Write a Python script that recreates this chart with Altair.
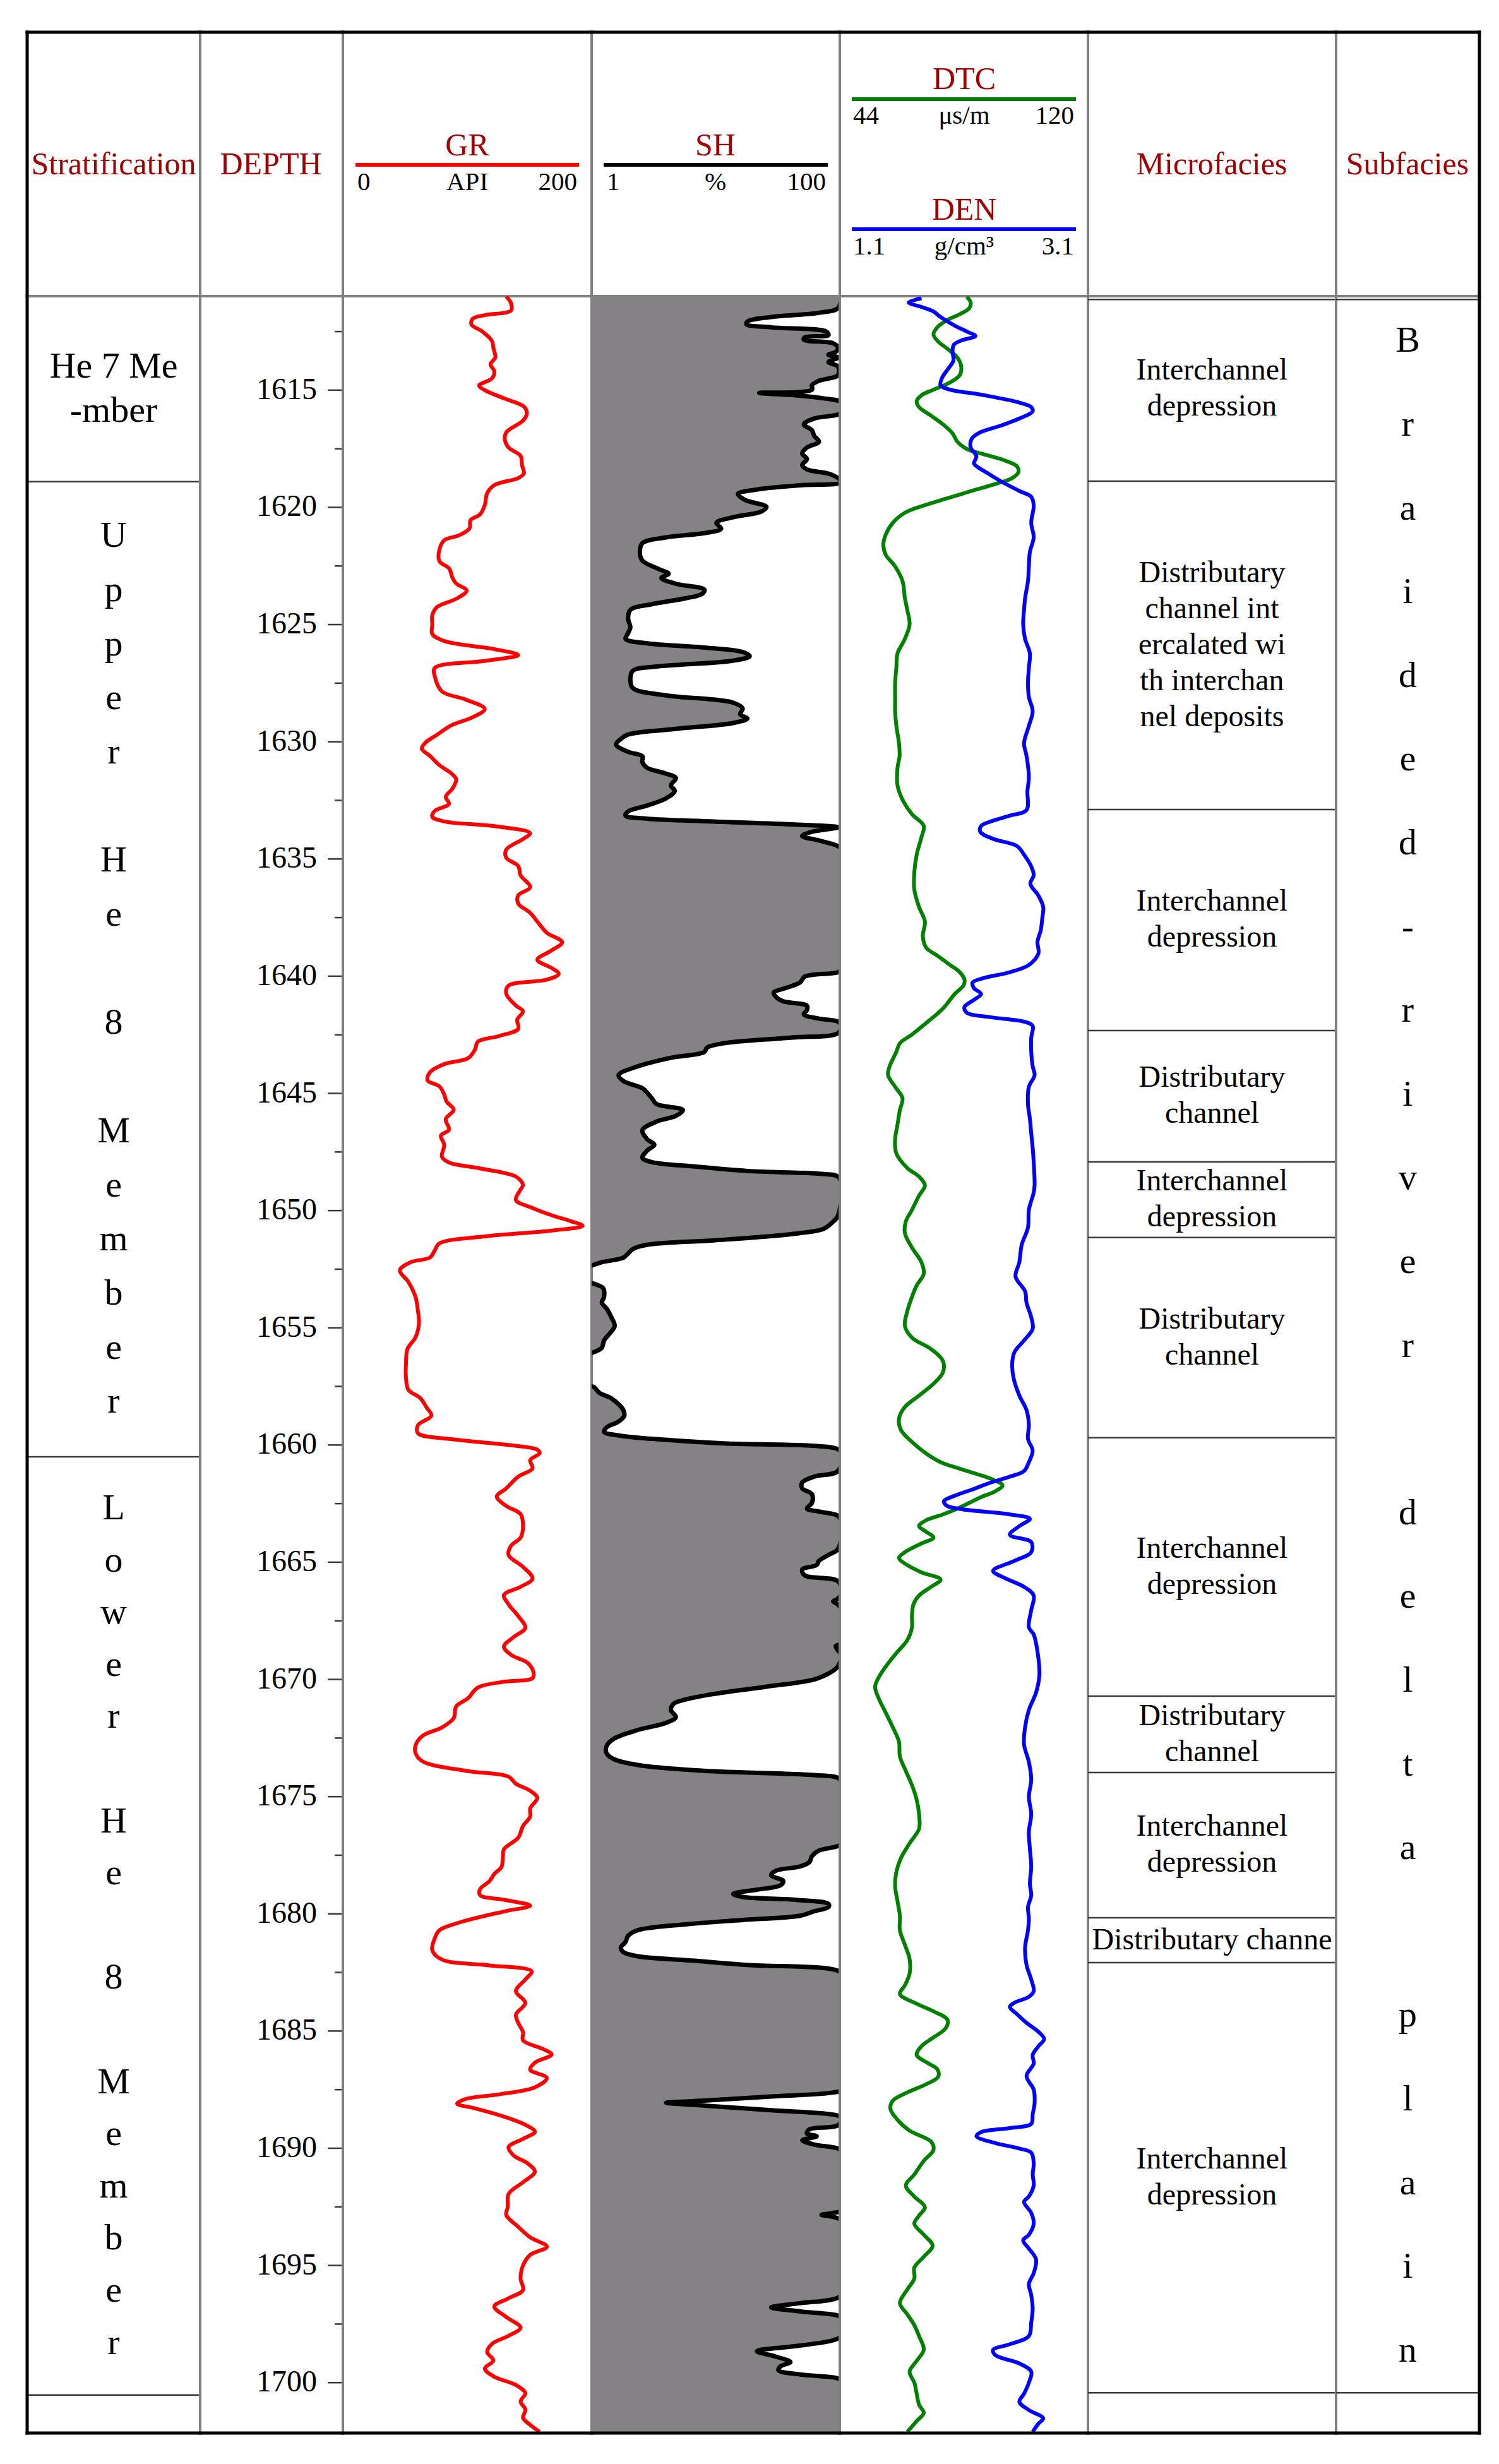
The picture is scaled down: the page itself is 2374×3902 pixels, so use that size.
import altair as alt
import pandas as pd

GR_DEPTH = [1611.0, 1611.3, 1611.6, 1611.8, 1611.95, 1612.2, 1612.5, 1612.9, 1613.2, 1613.6, 1613.9, 1614.2, 1614.5, 1614.8, 1615.0,
            1615.35, 1615.7, 1616.0, 1616.3, 1616.8, 1617.1, 1617.45, 1617.8, 1618.2, 1618.55, 1618.75, 1619.05, 1619.4, 1619.9,
            1620.3, 1620.55, 1620.9, 1621.2, 1621.4, 1621.8, 1622.3, 1622.6, 1623.0, 1623.25, 1623.55, 1623.9, 1624.25, 1624.6,
            1625.0, 1625.4, 1625.7, 1626.05, 1626.3, 1626.55, 1626.85, 1627.2, 1627.85, 1628.2, 1628.6, 1628.95, 1629.3, 1629.7,
            1630.05, 1630.3, 1630.6, 1631.0, 1631.35, 1631.6, 1632.0, 1632.35, 1632.65, 1632.95, 1633.2, 1633.4, 1633.6, 1633.9,
            1634.15, 1634.6, 1634.95, 1635.3, 1635.7, 1636.2, 1636.55, 1636.9, 1637.3, 1637.8, 1638.15, 1638.55, 1638.9, 1639.3,
            1639.65, 1639.9, 1640.15, 1640.4, 1640.75, 1641.25, 1641.5, 1641.85, 1642.25, 1642.55, 1642.8, 1643.1, 1643.5,
            1643.75, 1644.1, 1644.45, 1644.7, 1645.05, 1645.35, 1645.7, 1646.1, 1646.55, 1646.8, 1647.2, 1647.7, 1647.95, 1648.2,
            1648.55, 1648.9, 1649.1, 1649.55, 1649.85, 1650.2, 1650.45, 1650.65, 1650.85, 1651.1, 1651.4, 1651.7, 1652.0, 1652.2,
            1652.55, 1653.05, 1653.7, 1654.3, 1654.8, 1655.4, 1655.9, 1656.5, 1657.15, 1657.65, 1658.0, 1658.4, 1658.75, 1659.15,
            1659.5, 1659.75, 1660.0, 1660.2, 1660.35, 1660.65, 1661.0, 1661.35, 1661.85, 1662.2, 1662.6, 1662.95, 1663.45,
            1663.95, 1664.3, 1664.7, 1665.2, 1665.7, 1666.05, 1666.4, 1666.8, 1667.3, 1667.8, 1668.2, 1668.6, 1668.95, 1669.3,
            1669.7, 1669.95, 1670.1, 1670.35, 1670.8, 1671.15, 1671.65, 1672.05, 1672.4, 1672.8, 1673.15, 1673.5, 1673.9,
            1674.15, 1674.45, 1674.75, 1675.05, 1675.5, 1675.85, 1676.25, 1676.75, 1677.25, 1677.6, 1678.0, 1678.3, 1678.6,
            1678.95, 1679.2, 1679.4, 1679.65, 1679.9, 1680.35, 1680.7, 1681.05, 1681.55, 1681.95, 1682.2, 1682.45, 1682.8,
            1683.3, 1683.8, 1684.3, 1684.65, 1685.05, 1685.4, 1685.75, 1686.0, 1686.35, 1686.65, 1687.0, 1687.4, 1687.7, 1687.9,
            1688.1, 1688.3, 1688.65, 1689.0, 1689.3, 1689.6, 1689.95, 1690.3, 1690.65, 1691.0, 1691.45, 1691.95, 1692.5,
            1692.85, 1693.35, 1693.8, 1694.2, 1694.55, 1695.0, 1695.55, 1696.05, 1696.4, 1696.75, 1697.2, 1697.65, 1698.0,
            1698.35, 1698.7, 1699.05, 1699.4, 1699.75, 1700.1, 1700.45, 1700.8, 1701.15, 1701.5, 1701.8, 1702.1]
GR_API = [134.9, 139.2, 139.2, 115.7, 105.0, 103.7, 113.6, 122.1, 123.4, 125.1, 120.8, 124.2, 122.1, 110.6, 115.7,
          132.8, 150.7, 153.3, 149.9, 134.9, 133.6, 137.0, 147.7, 149.0, 150.7, 145.6, 124.2, 117.8, 115.7,
          111.4, 102.9, 102.0, 92.2, 79.4, 75.1, 75.1, 83.7, 86.7, 90.1, 99.5, 90.1, 73.0, 68.7,
          68.7, 68.7, 79.4, 124.2, 145.6, 115.7, 70.9, 70.9, 77.3, 98.6, 115.7, 105.0, 85.8, 73.0,
          62.3, 59.3, 66.6, 75.1, 85.8, 90.1, 86.7, 80.7, 83.7, 70.9, 68.7, 79.4, 124.2, 156.3,
          149.9, 134.9, 134.9, 145.6, 147.7, 156.3, 145.6, 145.6, 156.3, 164.8, 171.2, 184.9, 175.5, 162.7,
          175.5, 181.9, 171.2, 137.0, 134.9, 143.5, 149.9, 144.7, 145.6, 128.5, 109.3, 107.2, 100.7,
          79.4, 66.6, 64.5, 75.1, 79.4, 81.5, 87.9, 80.7, 83.7, 76.4, 79.4, 77.3, 83.7, 111.4,
          143.5, 149.9, 147.7, 143.5, 156.3, 175.5, 192.6, 203.3, 175.5, 115.7, 75.1, 70.9, 66.6, 49.5,
          39.7, 47.4, 53.8, 55.9, 56.8, 53.8, 46.5, 45.2, 45.2, 47.4, 58.0, 63.6, 67.9, 55.9,
          55.9, 85.8, 137.0, 162.7, 164.8, 156.3, 158.4, 145.6, 134.9, 126.4, 134.9, 147.7, 149.9,
          147.7, 139.2, 137.0, 149.9, 158.4, 147.7, 132.8, 137.0, 145.6, 152.0, 141.3, 132.8, 139.2, 154.1,
          159.3, 158.4, 132.8, 109.3, 100.7, 90.1, 87.9, 77.3, 60.2, 53.8, 53.8, 60.2, 98.6,
          137.0, 143.5, 156.3, 162.7, 156.3, 156.3, 149.9, 145.6, 132.8, 131.9, 130.6, 124.2, 120.0,
          111.4, 111.4, 132.8, 156.3, 132.8, 94.3, 75.1, 70.9, 68.7, 77.3, 120.0, 157.6, 152.0,
          143.5, 152.0, 143.5, 145.6, 149.9, 149.9, 167.0, 175.5, 160.5, 156.3, 171.2, 160.5, 128.5, 98.6,
          90.9, 107.2, 132.8, 152.0, 160.5, 149.9, 137.0, 141.3, 154.1, 160.5, 149.9, 137.0, 136.2,
          134.9, 145.6, 156.3, 171.2, 156.3, 149.9, 147.7, 149.9, 137.0, 124.2, 134.9, 147.7, 137.0,
          122.1, 117.8, 123.4, 115.7, 124.2, 143.5, 152.0, 147.7, 152.0, 149.9, 156.3, 164.8]

SH_DEPTH = [1611.0, 1611.5, 1611.7, 1611.88, 1612.07, 1612.19, 1612.32, 1612.5, 1612.65, 1612.75, 1612.85, 1613.0, 1613.18,
            1613.37, 1613.49, 1613.61, 1613.8, 1613.99, 1614.36, 1614.6, 1614.79, 1614.98, 1615.12, 1615.22, 1615.35, 1615.53,
            1615.96, 1616.21, 1616.46, 1616.71, 1616.95, 1617.2, 1617.45, 1617.7, 1617.94, 1618.19, 1618.38, 1618.56, 1618.75,
            1618.93, 1619.06, 1619.24, 1619.43, 1619.68, 1619.98, 1620.17, 1620.42, 1620.66, 1620.91, 1621.1, 1621.28, 1621.53,
            1621.9, 1622.27, 1622.64, 1622.83, 1623.01, 1623.26, 1623.51, 1623.69, 1623.88, 1624.13, 1624.37, 1624.75, 1625.12,
            1625.36, 1625.61, 1625.8, 1625.98, 1626.17, 1626.35, 1626.54, 1626.79, 1626.97, 1627.34, 1627.71, 1628.02, 1628.33,
            1628.58, 1628.83, 1629.01, 1629.2, 1629.45, 1629.69, 1629.88, 1630.12, 1630.43, 1630.62, 1630.87, 1631.11, 1631.36,
            1631.55, 1631.86, 1632.1, 1632.41, 1632.72, 1632.97, 1633.15, 1633.28, 1633.4, 1633.53, 1633.65, 1633.84, 1634.02,
            1634.21, 1634.45, 1634.58, 1639.71, 1639.83, 1640.02, 1640.27, 1640.51, 1640.7, 1640.88, 1641.07, 1641.26, 1641.44,
            1641.63, 1641.81, 1641.94, 1642.12, 1642.43, 1642.62, 1642.86, 1643.05, 1643.23, 1643.48, 1643.85, 1644.22, 1644.47,
            1644.78, 1644.97, 1645.21, 1645.46, 1645.71, 1645.96, 1646.2, 1646.57, 1646.95, 1647.19, 1647.44, 1647.75, 1647.93,
            1648.12, 1648.31, 1648.43, 1648.55, 1648.92, 1650.22, 1650.47, 1650.78, 1650.96, 1651.09, 1651.27, 1651.46, 1651.64,
            1651.83, 1652.01, 1652.2, 1652.32, 1652.51, 1653.0, 1653.13, 1653.31, 1653.68, 1653.93, 1654.18, 1654.55, 1654.92,
            1655.23, 1655.54, 1655.85, 1656.03, 1656.22, 1657.39, 1657.52, 1657.77, 1658.01, 1658.26, 1658.51, 1658.76, 1659.0,
            1659.25, 1659.44, 1659.62, 1659.81, 1659.93, 1660.05, 1660.18, 1660.36, 1661.11, 1661.35, 1661.6, 1661.85, 1662.1,
            1662.47, 1662.71, 1662.84, 1663.02, 1663.33, 1664.44, 1664.69, 1664.94, 1665.12, 1665.31, 1665.56, 1665.81, 1666.3,
            1666.55, 1666.67, 1666.8, 1667.04, 1668.45, 1668.58, 1668.76, 1668.95, 1669.44, 1669.69, 1670.0, 1670.31, 1670.62,
            1670.86, 1671.05, 1671.3, 1671.61, 1671.85, 1672.16, 1672.53, 1672.84, 1673.15, 1673.4, 1673.65, 1673.9, 1674.08,
            1674.2, 1674.39, 1676.99, 1677.11, 1677.3, 1677.54, 1677.79, 1677.98, 1678.16, 1678.35, 1678.6, 1678.78, 1678.97,
            1679.15, 1679.28, 1679.4, 1679.58, 1679.71, 1679.89, 1680.08, 1680.26, 1680.45, 1680.7, 1680.94, 1681.19, 1681.44,
            1681.63, 1681.81, 1682.0, 1682.18, 1682.31, 1682.43, 1682.55, 1687.5, 1687.62, 1687.79, 1687.97, 1688.06, 1688.18,
            1688.38, 1688.61, 1688.73, 1689.02, 1689.19, 1689.37, 1689.49, 1689.66, 1689.84, 1690.01, 1690.13, 1692.64, 1692.76,
            1692.84, 1692.93, 1693.11, 1696.26, 1696.44, 1696.61, 1696.79, 1696.96, 1697.14, 1697.26, 1698.01, 1698.19, 1698.42,
            1698.66, 1698.89, 1699.12, 1699.3, 1699.47, 1699.65, 1699.82, 1699.94, 1702.15]
SH_PCT = [106, 104.5, 96.1, 75.0, 64.5, 64.1, 75.0, 99.3, 100.3, 89.8, 89.4, 102.4, 104.5,
          103.5, 100.3, 104.5, 100.3, 104.5, 104.5, 96.1, 93.0, 93.0, 69.7, 85.6, 98.2, 106,
          106, 94.0, 89.4, 93.0, 94.0, 96.1, 90.8, 88.7, 90.8, 88.7, 90.8, 100.3, 104.5,
          106, 87.7, 68.7, 60.3, 63.4, 72.9, 70.8, 58.2, 50.8, 52.9, 45.5, 28.6, 18.1,
          17.0, 18.1, 25.5, 29.7, 26.5, 32.9, 45.5, 44.5, 37.1, 22.3, 12.8, 11.8, 12.8,
          11.8, 10.7, 20.2, 45.5, 62.4, 65.5, 58.2, 24.4, 13.9, 12.8, 13.9, 28.6, 58.2,
          62.4, 61.3, 64.5, 58.2, 32.9, 11.8, 8.6, 6.5, 11.8, 18.1, 18.1, 20.2, 28.6,
          32.9, 30.7, 32.4, 28.6, 20.2, 11.8, 10.7, 20.2, 49.7, 85.6, 104.5, 93.0, 88.7,
          96.1, 104.5, 106, 106, 104.5, 89.8, 87.7, 81.3, 76.1, 77.1, 80.3, 90.8, 90.8,
          89.4, 96.1, 104.5, 106, 104.5, 83.5, 54.0, 46.6, 45.5, 30.7, 16.0, 7.6, 9.7,
          18.1, 20.2, 22.3, 24.4, 36.0, 32.9, 24.4, 18.1, 20.2, 23.4, 20.2, 18.1, 22.3,
          41.3, 64.5, 96.1, 104.5, 106, 104.5, 102.4, 98.2, 87.7, 75.0, 49.7, 20.2, 13.9,
          11.8, 9.7, 0.2, -3.6, -8, -8, -3.0, 0.8, 1.2, 0.2, 2.3, 4.4, 5.9,
          3.8, 1.2, 0.2, -3.0, -8, -8, -3.4, -0.9, 4.4, 7.6, 9.7, 10.1, 7.6,
          2.3, 1.2, 9.7, 32.9, 54.0, 96.1, 104.5, 106, 104.5, 94.0, 88.7, 88.7, 93.0,
          93.0, 90.8, 96.1, 104.5, 106, 104.5, 100.3, 96.1, 95.1, 88.7, 89.8, 104.5, 106,
          104.5, 102.4, 104.5, 106, 106, 103.5, 104.5, 106, 104.5, 101.4, 94.0, 72.9, 49.7,
          37.1, 31.8, 30.7, 32.9, 28.6, 16.0, 5.5, 2.3, 2.3, 5.5, 16.0, 45.5, 94.0,
          104.5, 106, 106, 104.5, 96.1, 93.0, 91.9, 87.7, 77.1, 75.0, 80.3, 79.2, 68.7,
          58.2, 62.4, 85.6, 100.3, 100.3, 94.0, 87.7, 62.4, 37.1, 16.0, 11.8, 10.7, 8.6,
          9.7, 16.0, 41.3, 64.5, 98.2, 104.5, 106, 106, 102.4, 75.0, 45.5, 28.6, 45.5,
          75.0, 104.5, 106, 104.5, 91.9, 90.8, 95.1, 88.7, 94.0, 104.5, 106, 106, 102.4,
          97.2, 102.4, 106, 106, 102.4, 87.7, 75.0, 87.7, 104.5, 106, 106, 102.4, 87.7,
          68.7, 77.1, 83.5, 79.2, 78.2, 87.7, 104.5, 106, 106]

DTC_DEPTH = [1611.02, 1611.26, 1611.51, 1611.76, 1612.0, 1612.32, 1612.63, 1612.93, 1613.24, 1613.61, 1613.99, 1614.36,
             1614.67, 1614.98, 1615.22, 1615.47, 1615.72, 1616.09, 1616.46, 1616.83, 1617.2, 1617.51, 1617.76, 1618.0,
             1618.25, 1618.5, 1618.75, 1619.0, 1619.3, 1619.61, 1619.92, 1620.23, 1620.66, 1621.16, 1621.59, 1622.02,
             1622.52, 1623.14, 1623.88, 1624.37, 1624.99, 1625.61, 1626.23, 1626.85, 1627.47, 1628.09, 1628.7, 1629.32,
             1630.06, 1630.6, 1631.11, 1631.86, 1632.47, 1633.09, 1633.59, 1634.08, 1634.82, 1635.57, 1636.31, 1637.05,
             1637.67, 1638.29, 1638.78, 1639.15, 1639.52, 1639.83, 1640.14, 1640.39, 1640.76, 1641.38, 1642.0, 1642.49,
             1642.86, 1643.23, 1643.85, 1644.22, 1644.72, 1645.21, 1645.71, 1646.33, 1646.95, 1647.56, 1648.18, 1648.55,
             1648.92, 1649.36, 1649.97, 1650.47, 1650.96, 1651.58, 1652.2, 1652.7, 1653.19, 1653.68, 1654.3, 1654.92,
             1655.42, 1655.91, 1656.41, 1656.9, 1657.39, 1657.89, 1658.38, 1658.88, 1659.37, 1659.87, 1660.36, 1660.73,
             1660.98, 1661.23, 1661.48, 1661.72, 1661.97, 1662.22, 1662.47, 1662.71, 1662.96, 1663.21, 1663.46, 1663.7,
             1663.95, 1664.2, 1664.57, 1664.82, 1665.06, 1665.43, 1665.74, 1666.05, 1666.42, 1666.8, 1667.29, 1667.78,
             1668.33, 1668.82, 1669.32, 1669.81, 1670.31, 1670.8, 1671.42, 1672.04, 1672.66, 1673.28, 1673.9, 1674.51,
             1675.13, 1675.75, 1676.37, 1676.99, 1677.61, 1678.22, 1678.84, 1679.46, 1680.08, 1680.7, 1681.32, 1681.93,
             1682.55, 1683.05, 1683.42, 1683.79, 1684.16, 1684.53, 1684.9, 1685.27, 1685.65, 1686.02, 1686.39, 1686.63,
             1686.95, 1687.27, 1687.62, 1687.97, 1688.32, 1688.79, 1689.25, 1689.72, 1690.07, 1690.54, 1691.12, 1691.59,
             1692.06, 1692.52, 1692.87, 1693.22, 1693.69, 1694.16, 1694.63, 1695.09, 1695.56, 1696.03, 1696.61, 1697.08,
             1697.55, 1698.01, 1698.6, 1699.07, 1699.53, 1700.0, 1700.47, 1700.94, 1701.29, 1701.64, 1702.1]
DTC_US = [83.0, 84.3, 83.8, 80.6, 76.5, 73.0, 71.7, 73.3, 76.5, 79.8, 81.1, 80.6,
          77.3, 71.7, 67.6, 66.0, 66.8, 70.9, 74.9, 78.1, 79.8, 83.0, 89.5, 95.9,
          100.0, 100.5, 98.4, 92.7, 84.6, 76.5, 68.4, 62.0, 57.9, 55.5, 54.7, 55.5,
          58.7, 61.2, 62.0, 62.8, 63.6, 62.0, 59.5, 59.1, 58.7, 58.7, 58.7, 59.1,
          60.0, 60.2, 59.5, 59.5, 61.2, 64.4, 68.4, 67.6, 66.0, 65.2, 65.2, 66.8,
          68.8, 68.1, 69.2, 73.3, 77.3, 80.6, 82.2, 81.9, 78.9, 74.9, 69.2, 64.4,
          60.3, 59.1, 56.8, 56.3, 58.7, 61.2, 60.3, 59.5, 58.7, 59.1, 62.8, 66.8,
          68.8, 66.8, 64.4, 62.3, 62.0, 64.4, 67.6, 68.4, 66.0, 64.4, 62.8, 62.0,
          64.4, 70.9, 74.9, 74.9, 71.7, 66.8, 62.0, 60.0, 60.7, 64.4, 69.2, 74.1,
          79.8, 86.2, 91.9, 95.1, 92.7, 87.9, 83.8, 79.8, 74.9, 69.2, 66.8, 69.2,
          71.7, 67.6, 62.0, 60.0, 62.0, 67.6, 74.1, 70.9, 66.8, 64.9, 64.4, 64.4,
          62.8, 59.5, 56.3, 53.6, 51.9, 53.1, 55.5, 57.9, 60.0, 60.3, 62.3, 64.4,
          66.0, 66.8, 66.8, 63.6, 60.7, 59.1, 58.7, 59.5, 60.3, 60.3, 62.0, 63.6,
          63.6, 62.0, 60.3, 65.2, 71.7, 76.5, 75.7, 71.7, 67.6, 66.0, 70.1, 73.0,
          73.3, 69.2, 62.8, 57.9, 57.1, 59.5, 63.6, 70.9, 71.7, 68.4, 65.2, 62.3,
          65.2, 68.8, 66.8, 65.2, 68.4, 71.4, 68.4, 65.2, 65.2, 62.8, 60.3, 62.8,
          65.2, 66.8, 68.4, 66.0, 63.6, 65.2, 66.0, 66.8, 68.4, 66.0, 62.8]

DEN_DEPTH = [1611.08, 1611.26, 1611.45, 1611.64, 1611.88, 1612.25, 1612.5, 1612.69, 1612.87, 1613.06, 1613.37, 1613.74,
             1614.11, 1614.48, 1614.79, 1614.98, 1615.16, 1615.35, 1615.53, 1615.72, 1615.9, 1616.21, 1616.52, 1616.83,
             1617.08, 1617.45, 1617.82, 1618.13, 1618.31, 1618.56, 1618.93, 1619.3, 1619.55, 1619.92, 1620.66, 1621.28,
             1621.9, 1622.52, 1623.14, 1623.88, 1624.37, 1624.99, 1625.61, 1626.23, 1626.85, 1627.47, 1628.09, 1628.7,
             1629.32, 1630.06, 1630.6, 1631.49, 1632.1, 1632.91, 1633.15, 1633.4, 1633.59, 1633.84, 1634.14, 1634.45,
             1634.82, 1635.32, 1635.69, 1636.06, 1636.56, 1637.05, 1637.55, 1638.04, 1638.53, 1639.03, 1639.52, 1639.83,
             1640.08, 1640.27, 1640.51, 1640.76, 1641.01, 1641.32, 1641.56, 1641.75, 1641.94, 1642.12, 1642.62, 1643.23,
             1643.85, 1644.22, 1644.72, 1645.46, 1646.08, 1646.7, 1647.32, 1647.93, 1648.92, 1649.23, 1649.97, 1650.72,
             1651.46, 1652.2, 1652.82, 1653.44, 1653.93, 1654.55, 1655.04, 1655.54, 1656.03, 1656.53, 1657.15, 1657.89,
             1658.51, 1659.13, 1659.74, 1660.24, 1660.73, 1661.11, 1661.35, 1661.6, 1661.91, 1662.16, 1662.4, 1662.59,
             1662.74, 1662.96, 1663.15, 1663.46, 1663.83, 1664.14, 1664.57, 1664.94, 1665.37, 1665.68, 1666.05, 1666.42,
             1667.04, 1667.78, 1668.08, 1668.82, 1669.81, 1670.56, 1671.3, 1672.04, 1672.78, 1673.52, 1674.27, 1675.01,
             1675.75, 1676.49, 1677.23, 1677.98, 1678.72, 1679.21, 1679.71, 1680.2, 1680.7, 1681.44, 1682.18, 1682.8,
             1683.3, 1683.54, 1683.79, 1683.97, 1684.28, 1684.65, 1685.03, 1685.34, 1685.65, 1686.02, 1686.39, 1686.92,
             1687.5, 1688.08, 1688.55, 1688.96, 1689.14, 1689.31, 1689.49, 1689.78, 1690.01, 1690.19, 1690.65, 1691.12,
             1691.59, 1692.06, 1692.29, 1692.76, 1693.22, 1693.69, 1693.93, 1694.28, 1694.74, 1695.33, 1695.79, 1696.26,
             1696.85, 1697.43, 1698.01, 1698.36, 1698.6, 1698.83, 1699.18, 1699.53, 1700.0, 1700.47, 1700.82, 1701.17,
             1701.52, 1701.75, 1702.1]
DEN_GCC = [1.722, 1.607, 1.722, 1.828, 1.892, 2.020, 2.127, 2.203, 2.084, 2.011, 1.999, 2.007,
           1.956, 1.905, 1.892, 1.977, 2.212, 2.425, 2.595, 2.701, 2.714, 2.595, 2.425, 2.233,
           2.169, 2.161, 2.212, 2.190, 2.233, 2.318, 2.446, 2.595, 2.701, 2.723, 2.701, 2.723,
           2.689, 2.680, 2.672, 2.646, 2.637, 2.629, 2.646, 2.689, 2.680, 2.672, 2.680, 2.714,
           2.680, 2.637, 2.659, 2.680, 2.667, 2.659, 2.510, 2.339, 2.254, 2.246, 2.361, 2.574,
           2.637, 2.701, 2.723, 2.693, 2.765, 2.808, 2.799, 2.786, 2.757, 2.765, 2.680, 2.510,
           2.276, 2.178, 2.190, 2.254, 2.190, 2.105, 2.127, 2.339, 2.637, 2.714, 2.701, 2.701,
           2.714, 2.731, 2.680, 2.672, 2.689, 2.701, 2.714, 2.723, 2.731, 2.723, 2.680, 2.672,
           2.616, 2.595, 2.561, 2.646, 2.659, 2.701, 2.714, 2.637, 2.552, 2.531, 2.544, 2.595,
           2.659, 2.680, 2.672, 2.714, 2.680, 2.637, 2.510, 2.339, 2.169, 2.020, 1.922, 1.948,
           2.084, 2.510, 2.689, 2.595, 2.510, 2.701, 2.701, 2.552, 2.361, 2.467, 2.637, 2.723,
           2.701, 2.680, 2.723, 2.757, 2.774, 2.744, 2.680, 2.646, 2.637, 2.680, 2.701, 2.680,
           2.701, 2.680, 2.689, 2.701, 2.689, 2.701, 2.672, 2.680, 2.672, 2.646, 2.659, 2.701,
           2.723, 2.680, 2.552, 2.510, 2.574, 2.659, 2.765, 2.816, 2.765, 2.714, 2.723, 2.659,
           2.723, 2.731, 2.714, 2.701, 2.510, 2.254, 2.212, 2.382, 2.595, 2.701, 2.723, 2.714,
           2.723, 2.680, 2.637, 2.701, 2.723, 2.680, 2.629, 2.680, 2.744, 2.723, 2.680, 2.701,
           2.714, 2.701, 2.680, 2.510, 2.361, 2.382, 2.595, 2.701, 2.680, 2.637, 2.595, 2.680,
           2.808, 2.765, 2.714]

DEPTH_LABELS = [1615, 1620, 1625, 1630, 1635, 1640, 1645, 1650, 1655, 1660, 1665, 1670, 1675, 1680, 1685, 1690, 1695, 1700]
DEPTH_MINOR = [1612.5, 1617.5, 1622.5, 1627.5, 1632.5, 1637.5, 1642.5, 1647.5, 1652.5, 1657.5, 1662.5, 1667.5,
               1672.5, 1677.5, 1682.5, 1687.5, 1692.5, 1697.5]

STRAT_TOP = [1611.0, 1618.9, 1660.5]
STRAT_BASE = [1618.9, 1660.5, 1700.53]
STRAT_LABELS = [["He 7 Me", "-mber"],
                ["U", "p", "p", "e", "r", "", "H", "e", "", "8", "", "M", "e", "m", "b", "e", "r"],
                ["L", "o", "w", "e", "r", "", "H", "e", "", "8", "", "M", "e", "m", "b", "e", "r"]]

MICRO_TOP = [1611.0, 1618.88, 1632.89, 1642.32, 1647.92, 1651.15, 1659.69, 1670.71, 1673.97, 1680.17, 1682.08]
MICRO_BASE = [1618.88, 1632.89, 1642.32, 1647.92, 1651.15, 1659.69, 1670.71, 1673.97, 1680.17, 1682.08, 1700.43]
MICRO_LABELS = [["Interchannel", "depression"],
                ["Distributary", "channel int", "ercalated wi", "th interchan", "nel deposits"],
                ["Interchannel", "depression"],
                ["Distributary", "channel"],
                ["Interchannel", "depression"],
                ["Distributary", "channel"],
                ["Interchannel", "depression"],
                ["Distributary", "channel"],
                ["Interchannel", "depression"],
                ["Distributary channe"],
                ["Interchannel", "depression"]]

SUB_TOP, SUB_BASE = 1611.13, 1700.43
SUB_LABEL = ["B", "r", "a", "i", "d", "e", "d", "-", "r", "i", "v", "e", "r", "",
             "d", "e", "l", "t", "a", "", "p", "l", "a", "i", "n"]

# ---------------- styling / layout ----------------
FONT = "Liberation Serif"
TITLE_RED = "#A00000"
FRAME = "#808080"
INNER = "#3A3A3A"
SHALE = "#858285"
W_STRAT, W_DEPTH, W_GR, W_SH, W_LOG, W_MICRO, W_SUB = 274, 226, 394, 393, 393, 393, 227
H_HEAD, H_BODY = 418, 3384
D_TOP, D_BASE = 1610.99, 1702.15
BORDER = 5

ONE = alt.Data(values=[{}])


def ydepth(field="depth"):
    return alt.Y(f"{field}:Q", axis=None,
                 scale=alt.Scale(domain=[D_TOP, D_BASE], reverse=True, nice=False, zero=False))


def txt(text, x, y, size, color="black", align="center", baseline="alphabetic"):
    return alt.Chart(ONE).mark_text(text=text, font=FONT, fontSize=size, color=color,
                                    align=align, baseline=baseline).encode(x=alt.value(x), y=alt.value(y))


def hrule(x1, x2, y, color, width, cap="butt"):
    return alt.Chart(ONE).mark_rule(color=color, strokeWidth=width, strokeCap=cap).encode(
        x=alt.value(x1), x2=alt.value(x2), y=alt.value(y))


def vrule(x, y1, y2, color, width):
    return alt.Chart(ONE).mark_rule(color=color, strokeWidth=width, strokeCap="square").encode(
        x=alt.value(x), y=alt.value(y1), y2=alt.value(y2))


def frame(w, h, top=False, bottom=False, left=False, right=False):
    out = []
    if top:
        out.append(hrule(0, w, 0, "black", BORDER, "square"))
    if bottom:
        out.append(hrule(0, w, h, "black", BORDER, "square"))
    if left:
        out.append(vrule(0, 0, h, "black", BORDER))
    if right:
        out.append(vrule(w, 0, h, "black", BORDER))
    return out


def panel(layers, w, h):
    return alt.layer(*layers).properties(width=w, height=h)


# ---------------- header row ----------------
TS = 50
SS = 41
h_strat = panel([txt("Stratification", W_STRAT / 2, 225, TS, TITLE_RED)]
                + frame(W_STRAT, H_HEAD, top=True, left=True), W_STRAT, H_HEAD)
h_depth = panel([txt("DEPTH", 112, 225, TS, TITLE_RED)] + frame(W_DEPTH, H_HEAD, top=True), W_DEPTH, H_HEAD)
h_gr = panel([txt("GR", 197, 195, TS, TITLE_RED), hrule(20, 374, 210, "#FF0000", 6),
              txt("0", 23, 250, SS, align="left"), txt("API", 197, 250, SS), txt("200", 371, 250, SS, align="right")]
             + frame(W_GR, H_HEAD, top=True), W_GR, H_HEAD)
h_sh = panel([txt("SH", 196, 195, TS, TITLE_RED), hrule(19, 374, 210, "black", 6),
              txt("1", 24, 250, SS, align="left"), txt("%", 196, 250, SS), txt("100", 371, 250, SS, align="right")]
             + frame(W_SH, H_HEAD, top=True), W_SH, H_HEAD)
h_log = panel([txt("DTC", 197, 90, TS, TITLE_RED), hrule(19, 374, 106, "#008000", 6),
               txt("44", 21, 145, SS, align="left"), txt("\u03bcs/m", 197, 145, SS), txt("120", 371, 145, SS, align="right"),
               txt("DEN", 197, 297, TS, TITLE_RED), hrule(19, 374, 312, "#0000FF", 6),
               txt("1.1", 21, 352, SS, align="left"), txt("g/cm\u00b3", 197, 352, SS), txt("3.1", 371, 352, SS, align="right")]
              + frame(W_LOG, H_HEAD, top=True), W_LOG, H_HEAD)
h_micro = panel([txt("Microfacies", 196, 225, TS, TITLE_RED)] + frame(W_MICRO, H_HEAD, top=True), W_MICRO, H_HEAD)
h_sub = panel([txt("Subfacies", 113, 225, TS, TITLE_RED)] + frame(W_SUB, H_HEAD, top=True, right=True), W_SUB, H_HEAD)


# ---------------- body row ----------------
def depth_rules(depths, w, color=INNER, width=2.5):
    return alt.Chart(alt.Data(values=[{"depth": d} for d in depths])).mark_rule(
        color=color, strokeWidth=width).encode(y=ydepth(), x=alt.value(0), x2=alt.value(w))


def stacked_text(top, base, lines, x, size, line_height):
    """Multi-line label centred on the middle of its depth interval; blank
    entries in `lines` are kept as empty line slots."""
    mid = (top + base) / 2
    n = len(lines)
    groups, cur, start = [], [], 0
    for i, s in enumerate(lines):
        if s:
            if not cur:
                start = i
            cur.append(s)
        elif cur:
            groups.append((start, cur))
            cur = []
    if cur:
        groups.append((start, cur))
    marks = []
    for start, grp in groups:
        marks.append(alt.Chart(alt.Data(values=[{"mid": mid, "label": grp}])).mark_text(
            font=FONT, fontSize=size, lineHeight=line_height, align="center", baseline="middle", color="black",
            dy=(start - (n - 1) / 2) * line_height
        ).encode(y=ydepth("mid"), x=alt.value(x), text=alt.Text("label:N")))
    return marks


strat_layers = ([depth_rules(STRAT_BASE, W_STRAT)]
                + stacked_text(STRAT_TOP[0], STRAT_BASE[0], STRAT_LABELS[0], 137, 58, 70)
                + stacked_text(STRAT_TOP[1], STRAT_BASE[1], STRAT_LABELS[1], 137, 58, 85.7)
                + stacked_text(STRAT_TOP[2], STRAT_BASE[2], STRAT_LABELS[2], 137, 58, 82.6))
b_strat = panel(strat_layers + frame(W_STRAT, H_BODY, bottom=True, left=True), W_STRAT, H_BODY)

major = alt.Data(values=[{"depth": d} for d in DEPTH_LABELS])
minor = alt.Data(values=[{"depth": d} for d in DEPTH_MINOR])
b_depth = panel([
    alt.Chart(major).mark_rule(color=INNER, strokeWidth=2.5).encode(y=ydepth(), x=alt.value(202), x2=alt.value(W_DEPTH)),
    alt.Chart(minor).mark_rule(color=INNER, strokeWidth=2.5).encode(y=ydepth(), x=alt.value(213), x2=alt.value(W_DEPTH)),
    alt.Chart(major).mark_text(font=FONT, fontSize=48, align="right", baseline="middle", color="black").encode(
        y=ydepth(), x=alt.value(185), text=alt.Text("depth:Q", format="d")),
] + frame(W_DEPTH, H_BODY, bottom=True), W_DEPTH, H_BODY)

gr_df = pd.DataFrame({"depth": GR_DEPTH, "api": GR_API})
b_gr = panel([
    alt.Chart(gr_df).mark_line(color="#FF0000", strokeWidth=6, interpolate="catmull-rom", clip=True).encode(
        x=alt.X("api:Q", axis=None, scale=alt.Scale(domain=[-11.3, 211.3], nice=False, zero=False)),
        y=ydepth(), order="depth:Q")
] + frame(W_GR, H_BODY, bottom=True), W_GR, H_BODY)

sh_df = pd.DataFrame({"depth": SH_DEPTH, "pct": SH_PCT})
sh_scale = alt.Scale(domain=[-4.3, 105.3], nice=False, zero=False)
b_sh = panel([
    alt.Chart(sh_df).mark_area(orient="horizontal", color=SHALE, interpolate="catmull-rom", clip=True).encode(
        x=alt.X("pct:Q", axis=None, scale=sh_scale, stack=None), x2=alt.value(0), y=ydepth()),
    alt.Chart(sh_df).mark_line(color="black", strokeWidth=7, interpolate="catmull-rom", clip=True).encode(
        x=alt.X("pct:Q", axis=None, scale=sh_scale), y=ydepth(), order="depth:Q"),
] + frame(W_SH, H_BODY, bottom=True), W_SH, H_BODY)

dtc_df = pd.DataFrame({"depth": DTC_DEPTH, "dtc": DTC_US})
den_df = pd.DataFrame({"depth": DEN_DEPTH, "den": DEN_GCC})
b_log = alt.layer(
    alt.Chart(dtc_df).mark_line(color="#008000", strokeWidth=6, interpolate="catmull-rom", clip=True).encode(
        x=alt.X("dtc:Q", axis=None, scale=alt.Scale(domain=[39.93, 124.07], nice=False, zero=False)),
        y=ydepth(), order="depth:Q"),
    alt.Chart(den_df).mark_line(color="#0000FF", strokeWidth=6, interpolate="catmull-rom", clip=True).encode(
        x=alt.X("den:Q", axis=None, scale=alt.Scale(domain=[0.993, 3.207], nice=False, zero=False)),
        y=ydepth(), order="depth:Q"),
    *frame(W_LOG, H_BODY, bottom=True)
).resolve_scale(x="independent").properties(width=W_LOG, height=H_BODY)

micro_texts = []
for t, b, l in zip(MICRO_TOP, MICRO_BASE, MICRO_LABELS):
    micro_texts += stacked_text(t, b, l, W_MICRO / 2, 48, 57)
b_micro = panel([depth_rules([SUB_TOP] + MICRO_BASE, W_MICRO)] + micro_texts
                + frame(W_MICRO, H_BODY, bottom=True), W_MICRO, H_BODY)

b_sub = panel([depth_rules([SUB_TOP, SUB_BASE], W_SUB)]
              + stacked_text(SUB_TOP, SUB_BASE, SUB_LABEL, W_SUB / 2, 58, 132.6)
              + frame(W_SUB, H_BODY, bottom=True, right=True), W_SUB, H_BODY)

chart = alt.concat(
    h_strat, h_depth, h_gr, h_sh, h_log, h_micro, h_sub,
    b_strat, b_depth, b_gr, b_sh, b_log, b_micro, b_sub,
    columns=7, spacing=0, bounds="flush"
).properties(
    padding={"left": 29, "top": 37, "right": 0, "bottom": 0}
).configure_view(stroke=FRAME, strokeWidth=4).configure_concat(spacing=0)

chart.save("out.html", embed_options={"renderer": "svg", "actions": False})
